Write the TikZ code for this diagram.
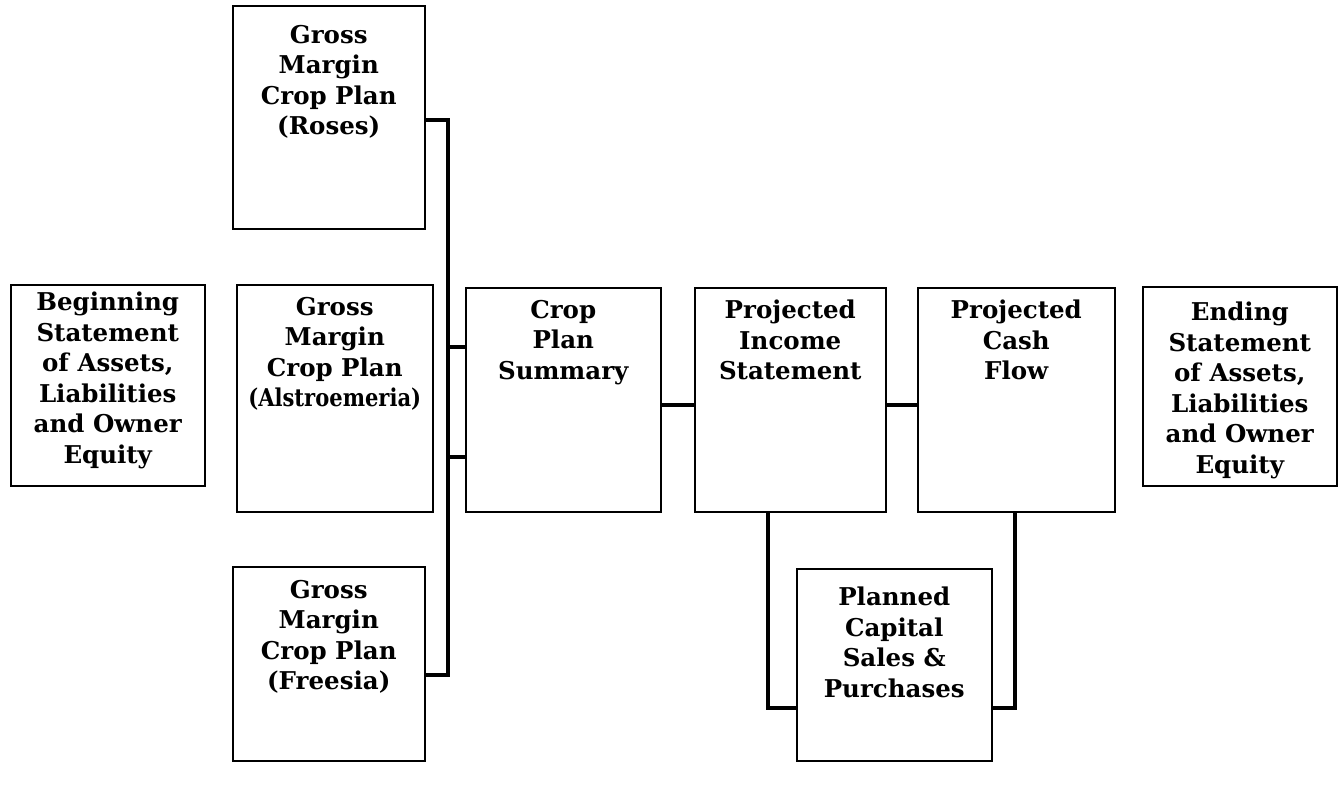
\documentclass[tikz,border=0pt]{standalone}
\usepackage{fontspec}
\setmainfont{DejaVu Serif}
\usepackage{graphicx}
\begin{document}
\begin{tikzpicture}[x=1pt,y=-1pt,
  box/.style={draw, line width=1.5pt, inner sep=0pt, anchor=north west},
  lbl/.style={anchor=north, inner sep=0pt, align=center, font=\bfseries\fontsize{24.5}{30.5}\selectfont},
  conn/.style={line width=4.5pt, line cap=butt, line join=miter}]
\useasboundingbox (0,0) rectangle (1340,788);
% boxes
\node[box, minimum width=192pt, minimum height=223pt] (roses) at (232,5) {};
\node[box, minimum width=194pt, minimum height=201pt] (begin) at (10,284) {};
\node[box, minimum width=196pt, minimum height=227pt] (alstro) at (236,284) {};
\node[box, minimum width=192pt, minimum height=194pt] (freesia) at (232,566) {};
\node[box, minimum width=195pt, minimum height=224pt] (summary) at (465,287) {};
\node[box, minimum width=191pt, minimum height=224pt] (income) at (694,287) {};
\node[box, minimum width=197pt, minimum height=224pt] (cash) at (917,287) {};
\node[box, minimum width=194pt, minimum height=199pt] (ending) at (1142,286) {};
\node[box, minimum width=195pt, minimum height=192pt] (planned) at (796,568) {};
% labels
\node[lbl] (tRoses) at ([yshift=-20pt]roses.north) {Gross\\Margin\\Crop Plan\\(Roses)};
\node[lbl] (tBegin) at ([yshift=-8pt]begin.north) {Beginning\\Statement\\of Assets,\\Liabilities\\and Owner\\Equity};
\node[lbl] (tAlstro) at ([yshift=-13pt]alstro.north) {Gross\\Margin\\Crop Plan\\\scalebox{0.86}[1]{(Alstroemeria)}};
\node[lbl] (tFreesia) at ([yshift=-14pt]freesia.north) {Gross\\Margin\\Crop Plan\\(Freesia)};
\node[lbl] (tSummary) at ([yshift=-13pt]summary.north) {Crop\\Plan\\Summary};
\node[lbl] (tIncome) at ([yshift=-13pt]income.north) {Projected\\Income\\Statement};
\node[lbl] (tCash) at ([yshift=-13pt]cash.north) {Projected\\Cash\\Flow};
\node[lbl] (tEnding) at ([yshift=-16pt]ending.north) {Ending\\Statement\\of Assets,\\Liabilities\\and Owner\\Equity};
\node[lbl] (tPlanned) at ([yshift=-19pt]planned.north) {Planned\\Capital\\Sales \&\\Purchases};
% connector coordinates
\coordinate (busTop) at (448,120);
\coordinate (busBot) at (448,675);
\coordinate (stubA) at (448,347);
\coordinate (stubB) at (448,457);
\coordinate (midLine) at (0,405);
\coordinate (incDown) at (768,708);
\coordinate (cashDown) at (1015,708);
% connectors
\draw[conn] (roses.east |- busTop) -- (busTop) -- (busBot) -- (freesia.east |- busBot);
\draw[conn] (stubA) -- (summary.west |- stubA);
\draw[conn] (stubB) -- (summary.west |- stubB);
\draw[conn] (summary.east |- midLine) -- (income.west |- midLine);
\draw[conn] (income.east |- midLine) -- (cash.west |- midLine);
\draw[conn] (income.south -| incDown) -- (incDown) -- (planned.west |- incDown);
\draw[conn] (cash.south -| cashDown) -- (cashDown) -- (planned.east |- cashDown);
\end{tikzpicture}
\end{document}
